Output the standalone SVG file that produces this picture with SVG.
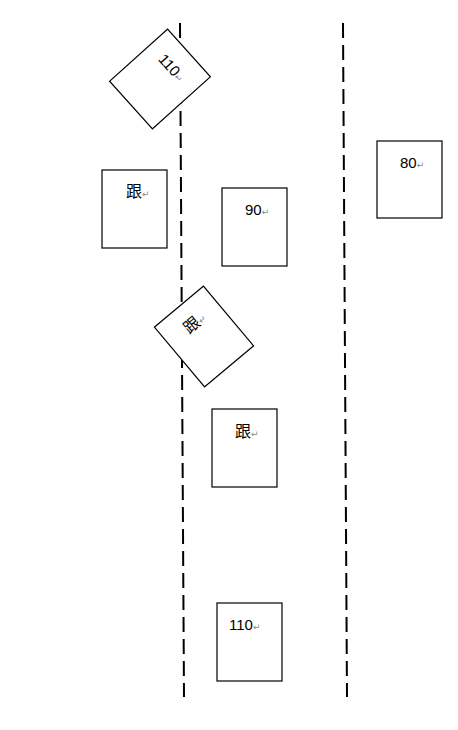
<svg xmlns="http://www.w3.org/2000/svg" width="458" height="730" viewBox="0 0 458 730">
<style>
.box{fill:#fff;stroke:#000;stroke-width:1.2}
.lane{stroke:#000;stroke-width:2;stroke-dasharray:15 7;fill:none}
.num{font-family:"Liberation Sans",Arial,sans-serif;font-size:15px;fill:#000}
.cjk{font-family:"Noto Sans CJK SC","Noto Sans CJK JP",sans-serif;font-size:16px;fill:#000}
.ret{font-family:"DejaVu Sans",sans-serif;font-size:9px;fill:#888}
</style>
<rect width="458" height="730" fill="#fff"/>
<g id="connectors">
<line class="lane" x1="180" y1="23" x2="184" y2="697"/>
<line class="lane" x1="343" y1="23" x2="347" y2="697"/>
</g>
<g id="car-110-rotated" transform="translate(160,79) rotate(48)">
<rect class="box" x="-32" y="-39" width="64" height="78"/>
<text class="num" x="-16" y="-11">110<tspan class="ret">↵</tspan></text>
</g>
<g id="car-gen-1">
<rect class="box" x="102" y="170" width="65" height="78"/>
<text class="cjk" x="126" y="197">跟<tspan class="ret">↵</tspan></text>
</g>
<g id="car-90">
<rect class="box" x="222" y="188" width="65" height="78"/>
<text class="num" x="245" y="215">90<tspan class="ret">↵</tspan></text>
</g>
<g id="car-80">
<rect class="box" x="377" y="141" width="65" height="77"/>
<text class="num" x="400" y="168">80<tspan class="ret">↵</tspan></text>
</g>
<g id="car-gen-rotated" transform="translate(204,336.5) rotate(-40)">
<rect class="box" x="-32" y="-39" width="64" height="78"/>
<text class="cjk" x="-10" y="-11">跟<tspan class="ret">↵</tspan></text>
</g>
<g id="car-gen-2">
<rect class="box" x="212" y="409" width="65" height="78"/>
<text class="cjk" x="235" y="437">跟<tspan class="ret">↵</tspan></text>
</g>
<g id="car-110">
<rect class="box" x="217" y="603" width="65" height="78"/>
<text class="num" x="229" y="630">110<tspan class="ret">↵</tspan></text>
</g>
</svg>
